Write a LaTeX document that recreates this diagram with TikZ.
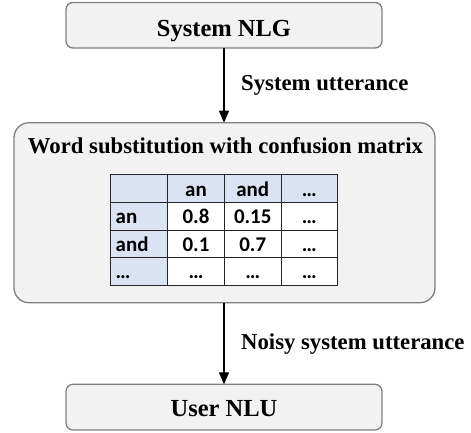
\documentclass[tikz,border=0pt]{standalone}
\usepackage{fontspec}
\setmainfont{Liberation Serif}
\newfontfamily\cellfont{Carlito Bold}
\usetikzlibrary{arrows.meta}
\definecolor{boxfill}{HTML}{F2F2F2}
\definecolor{boxline}{HTML}{7F7F7F}
\definecolor{hdrblue}{HTML}{DAE3F3}
\begin{document}
\begin{tikzpicture}[x=1bp,y=-1bp,
  stagebox/.style={draw=boxline,fill=boxfill,line width=1.3bp,rounded corners=7bp},
  titletext/.style={font=\fontsize{24.6}{28}\selectfont\bfseries,inner sep=0pt,anchor=base},
  labeltext/.style={font=\fontsize{22.8}{26}\selectfont\bfseries,inner sep=0pt,anchor=base west},
  celltext/.style={font=\cellfont\fontsize{21}{24}\selectfont,inner sep=0pt,anchor=base},
  rowtext/.style={font=\cellfont\fontsize{21}{24}\selectfont,inner sep=0pt,anchor=base west},
  flow/.style={line width=1.3bp,-{Triangle[length=12bp,width=10bp]}}]
\useasboundingbox (0,0) rectangle (471,432);
% boxes
\draw[stagebox] (66,2.5) rectangle (382,48);
\node[titletext] (nlg) at (224,36) {System NLG};
\coordinate (nlgb) at (224,48);
\draw[stagebox,rounded corners=15bp] (14,122.7) rectangle (435,302.7);
\node[titletext,font=\fontsize{22.8}{26}\selectfont\bfseries] (ws) at (225.5,153) {Word substitution with confusion matrix};
\coordinate (wst) at (224,122.7);
\coordinate (wsb) at (224,302.7);
\draw[stagebox] (66,384.3) rectangle (382,430);
\node[titletext] (nlu) at (224,416.5) {User NLU};
\coordinate (nlut) at (224,384.3);
% arrows
\draw[flow] (nlgb) -- (wst);
\node[labeltext] (l1) at (241,90) {System utterance};
\draw[flow] (wsb) -- (nlut);
\node[labeltext] (l2) at (241,349.5) {Noisy system utterance};
% table
\fill[white] (110.7,174.3) rectangle (337.7,285);
\fill[hdrblue] (110.7,174.3) rectangle (337.7,202.3);
\fill[hdrblue] (110.7,174.3) rectangle (167.7,285);
\draw[line width=0.9bp,black!85] (110.7,174.3) rectangle (337.7,285);
\foreach \xx in {167.7,224.3,281} \draw[line width=0.9bp,black!85] (\xx,174.3) -- (\xx,285);
\foreach \yy in {202.3,230,257.7} \draw[line width=0.9bp,black!85] (110.7,\yy) -- (337.7,\yy);
% header
\node[celltext] (h1) at (196,196.5) {an};
\node[celltext] (h2) at (252.7,196.5) {and};
\node[celltext] (h3) at (309.3,196.5) {…};
% rows
\node[rowtext] (r1) at (115.5,223.5) {an};
\node[rowtext] (r2) at (115.5,251) {and};
\node[rowtext] (r3) at (115.5,278.5) {…};
\node[celltext] (c11) at (196,223.5) {0.8};
\node[celltext] (c12) at (252.7,223.5) {0.15};
\node[celltext] (c13) at (309.3,223.5) {…};
\node[celltext] (c21) at (196,251) {0.1};
\node[celltext] (c22) at (252.7,251) {0.7};
\node[celltext] (c23) at (309.3,251) {…};
\node[celltext] (c31) at (196,278.5) {…};
\node[celltext] (c32) at (252.7,278.5) {…};
\node[celltext] (c33) at (309.3,278.5) {…};
\end{tikzpicture}
\end{document}
